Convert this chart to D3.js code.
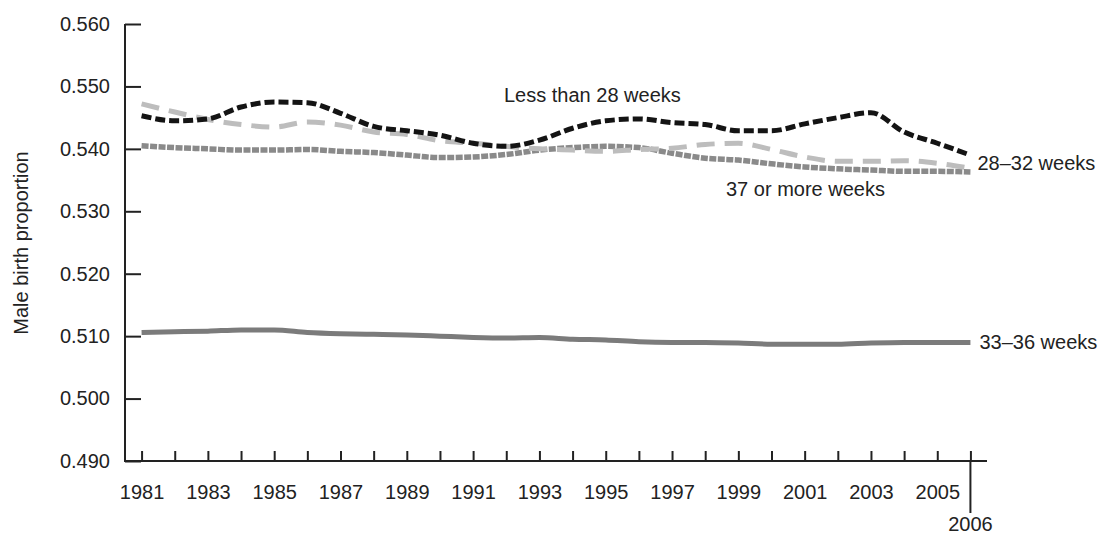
<!DOCTYPE html>
<html>
<head>
<meta charset="utf-8">
<script src="https://cdn.jsdelivr.net/npm/d3@7"></script>
<style>
  html, body { margin: 0; padding: 0; background: #fff; }
  svg { display: block; }
  text { font-family: "Liberation Sans", Arial, sans-serif; fill: #222; }
</style>
</head>
<body>
<svg id="chart" width="1104" height="536"></svg>
<script>
// Birth years plotted on the x axis
const years = [1981, 1982, 1983, 1984, 1985, 1986, 1987, 1988, 1989, 1990,
               1991, 1992, 1993, 1994, 1995, 1996, 1997, 1998, 1999, 2000,
               2001, 2002, 2003, 2004, 2005, 2006];

// Male birth proportion by gestational age group
const lessThan28 = [0.5453, 0.5445, 0.5448, 0.5467, 0.5475, 0.5474, 0.5457, 0.5436, 0.5429, 0.5422,
                    0.5409, 0.5404, 0.5414, 0.5433, 0.5445, 0.5448, 0.5442, 0.5439, 0.5429, 0.5429,
                    0.5440, 0.5450, 0.5458, 0.5427, 0.5409, 0.5390];
const weeks28to32 = [0.5472, 0.5459, 0.5447, 0.5439, 0.5435, 0.5443, 0.5438, 0.5427, 0.5423, 0.5413,
                     0.5409, 0.5404, 0.5400, 0.5398, 0.5396, 0.5399, 0.5401, 0.5407, 0.5409, 0.5399,
                     0.5387, 0.5380, 0.5380, 0.5381, 0.5377, 0.5369];
const weeks37plus = [0.5405, 0.5402, 0.5400, 0.5398, 0.5398, 0.5399, 0.5396, 0.5394, 0.5390, 0.5386,
                     0.5387, 0.5391, 0.5398, 0.5402, 0.5404, 0.5402, 0.5393, 0.5385, 0.5382, 0.5376,
                     0.5371, 0.5368, 0.5366, 0.5364, 0.5364, 0.5363];
const weeks33to36 = [0.5106, 0.5107, 0.5108, 0.5110, 0.5110, 0.5106, 0.5104, 0.5103, 0.5102, 0.5100,
                     0.5098, 0.5097, 0.5098, 0.5095, 0.5094, 0.5091, 0.5090, 0.5090, 0.5089, 0.5087,
                     0.5087, 0.5087, 0.5089, 0.5090, 0.5090, 0.5090];

// Axis ticks
const yTicks = [0.490, 0.500, 0.510, 0.520, 0.530, 0.540, 0.550, 0.560];
const xLabelYears = [1981, 1983, 1985, 1987, 1989, 1991, 1993, 1995, 1997, 1999, 2001, 2003, 2005];
const lastYearLabel = "2006";
const yTitle = "Male birth proportion";

const series = [
  { name: "37 or more weeks",   values: weeks37plus, color: "#8a8a8a", dash: "7,1.5", width: 5.5 },
  { name: "28–32 weeks",        values: weeks28to32, color: "#bdbdbd", dash: "18,10", width: 5 },
  { name: "33–36 weeks",        values: weeks33to36, color: "#7b7b7b", dash: null,    width: 5 },
  { name: "Less than 28 weeks", values: lessThan28,  color: "#141414", dash: "10,4",  width: 5 }
];

const svg = d3.select("#chart");

const x = d3.scaleLinear().domain([1980.5, 2006.5]).range([125, 987]);
const y = d3.scaleLinear().domain([0.490, 0.560]).range([461, 24]);

// Y axis: ticks point inward, labels on the left
const yAxis = d3.axisLeft(y)
  .tickValues(yTicks)
  .tickFormat(d3.format(".3f"))
  .tickSizeInner(-16)
  .tickSizeOuter(0)
  .tickPadding(15);

const gy = svg.append("g").attr("transform", "translate(125,0)").call(yAxis);
gy.select(".domain").remove();
gy.selectAll(".tick line").attr("stroke", "#222").attr("stroke-width", 2);
gy.selectAll(".tick text").style("font-size", "20px").attr("fill", "#222")
  .style("font-family", "'Liberation Sans', Arial, sans-serif");

// X axis: ticks every year pointing upward, odd years labeled
const xAxis = d3.axisBottom(x)
  .tickValues(years)
  .tickFormat(d => xLabelYears.includes(d) ? String(d) : "")
  .tickSizeInner(-10)
  .tickSizeOuter(0)
  .tickPadding(24);

const gx = svg.append("g").attr("transform", "translate(0,461)").call(xAxis);
gx.select(".domain").remove();
gx.selectAll(".tick line").attr("stroke", "#222").attr("stroke-width", 2);
gx.selectAll(".tick text").style("font-size", "20px").attr("fill", "#222")
  .style("font-family", "'Liberation Sans', Arial, sans-serif");

// Axis lines
svg.append("line")
  .attr("x1", 125).attr("x2", 125)
  .attr("y1", y(0.560)).attr("y2", 462)
  .attr("stroke", "#222").attr("stroke-width", 2);
svg.append("line")
  .attr("x1", 124).attr("x2", x(2006.5))
  .attr("y1", 461).attr("y2", 461)
  .attr("stroke", "#222").attr("stroke-width", 2);

// Final year marker dropping below the axis
const lastYear = years[years.length - 1];
svg.append("line")
  .attr("x1", x(lastYear)).attr("x2", x(lastYear))
  .attr("y1", 461).attr("y2", 513)
  .attr("stroke", "#222").attr("stroke-width", 2);
svg.append("text")
  .attr("x", x(lastYear)).attr("y", 531)
  .attr("text-anchor", "middle")
  .style("font-size", "20px")
  .text(lastYearLabel);

// Y axis title
svg.append("text")
  .attr("transform", "translate(28,243) rotate(-90)")
  .attr("text-anchor", "middle")
  .style("font-size", "20px")
  .text(yTitle);

// Series lines
const line = d3.line()
  .x((d, i) => x(years[i]))
  .y(d => y(d))
  .curve(d3.curveMonotoneX);

series.forEach(s => {
  svg.append("path")
    .datum(s.values)
    .attr("fill", "none")
    .attr("stroke", s.color)
    .attr("stroke-width", s.width)
    .attr("stroke-dasharray", s.dash)
    .attr("d", line);
});

// Series labels
const labels = [
  { text: "Less than 28 weeks", x: 504, y: 102 },
  { text: "28–32 weeks",        x: x(lastYear) + 7, y: 170 },
  { text: "37 or more weeks",   x: 726, y: 196 },
  { text: "33–36 weeks",        x: x(lastYear) + 9, y: 349 }
];
svg.selectAll("text.series-label")
  .data(labels)
  .join("text")
  .attr("class", "series-label")
  .attr("x", d => d.x)
  .attr("y", d => d.y)
  .style("font-size", "20px")
  .text(d => d.text);
</script>
</body>
</html>
